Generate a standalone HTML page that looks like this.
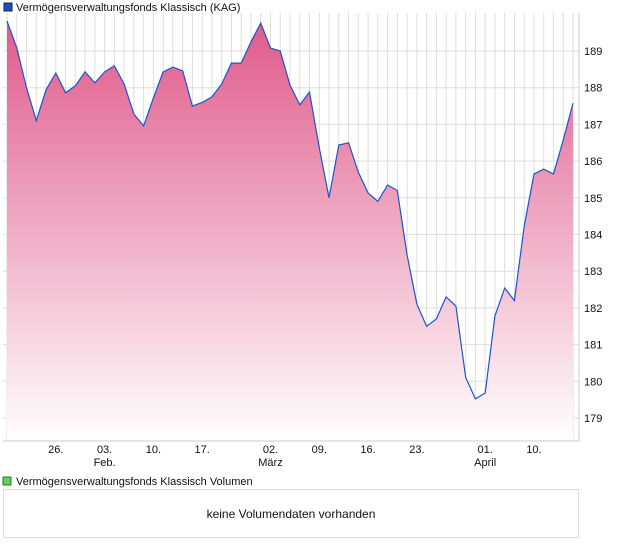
<!DOCTYPE html>
<html><head><meta charset="utf-8"><style>
body{margin:0;background:#fff;font-family:"Liberation Sans",sans-serif;}
svg{display:block}
</style></head><body>
<svg width="620" height="546" xmlns="http://www.w3.org/2000/svg" font-family="Liberation Sans, sans-serif">
<defs><linearGradient id="g" x1="0" y1="0" x2="0" y2="1">
<stop offset="0" stop-color="#e05a8a"/><stop offset="1" stop-color="#ffffff"/></linearGradient></defs>
<rect x="4" y="3" width="8" height="8" fill="#1f4fb5" stroke="#0a1f60" stroke-width="1"/>
<text x="16" y="11" font-size="11" fill="#111">Vermögensverwaltungsfonds Klassisch (KAG)</text>
<g id="grid"></g>
<path id="area" fill="url(#g)"/>
<path id="line" fill="none" stroke="#1a56cc" stroke-width="1.2"/>
<line x1="579" y1="13" x2="579" y2="441" stroke="#ccc"/>
<line x1="3" y1="441" x2="579" y2="441" stroke="#ccc"/>
<g id="yt"></g><g id="xt"></g>
<rect x="3" y="477" width="8" height="8" fill="#5fcf5f" stroke="#2a7a2a"/>
<text x="16" y="485" font-size="11" fill="#111">Vermögensverwaltungsfonds Klassisch Volumen</text>
<rect x="3.5" y="489.5" width="575" height="48" fill="#fff" stroke="#ddd"/>
<text x="291" y="518" font-size="12" fill="#111" text-anchor="middle">keine Volumendaten vorhanden</text>
</svg>
<script>
const values=[189.82,189.08,188.0,187.1,187.94,188.4,187.86,188.05,188.43,188.13,188.43,188.6,188.1,187.28,186.96,187.72,188.43,188.56,188.46,187.5,187.6,187.75,188.1,188.67,188.67,189.25,189.76,189.08,189.0,188.07,187.53,187.88,186.36,185.0,186.44,186.5,185.7,185.13,184.9,185.35,185.2,183.44,182.1,181.5,181.7,182.3,182.05,180.1,179.52,179.68,181.78,182.54,182.2,184.23,185.65,185.78,185.65,186.57,187.58];
const yTicks=[179,180,181,182,183,184,185,186,187,188,189];
const xTickIdx=[5,10,15,20,27,32,37,42,49,54];
const xTickLabels=["26.","03.","10.","17.","02.","09.","16.","23.","01.","10."];
const monthLabels={10:"Feb.",27:"März",49:"April"};
const NS="http://www.w3.org/2000/svg";
const xs=i=>7+i*(566/(values.length-1));
const ys=v=>51+(189-v)*36.7;
const bottom=441;
function mk(t,a,p){const e=document.createElementNS(NS,t);for(const k in a)e.setAttribute(k,a[k]);p.appendChild(e);return e;}
const grid=document.getElementById('grid');
values.forEach((v,i)=>{const l=mk('line',{x1:xs(i),x2:xs(i),y1:13,y2:bottom,stroke:'#ddd'},grid);

});
const yt=document.getElementById('yt');
yTicks.forEach(t=>{const y=ys(t);
const l=mk('line',{x1:3,x2:579,y1:y,y2:y,stroke:'#ddd'},grid);


const tx=mk('text',{x:584,y:y+4,'font-size':11,fill:'#111'},yt);tx.textContent=t;

});
let d=values.map((v,i)=>(i?'L':'M')+xs(i).toFixed(1)+','+ys(v).toFixed(1)).join('');
document.getElementById('line').setAttribute('d',d);
document.getElementById('area').setAttribute('d',d+'L'+xs(values.length-1)+','+bottom+'L'+xs(0)+','+bottom+'Z');
const xt=document.getElementById('xt');
xTickIdx.forEach((i,k)=>{const x=xs(i);
const tx=mk('text',{x:x,y:453,'font-size':11,fill:'#111','text-anchor':'middle'},xt);tx.textContent=xTickLabels[k];


if(monthLabels[i]){const m=mk('text',{x:x,y:466,'font-size':11,fill:'#111','text-anchor':'middle'},xt);m.textContent=monthLabels[i];

}});
</script>
</body></html>
